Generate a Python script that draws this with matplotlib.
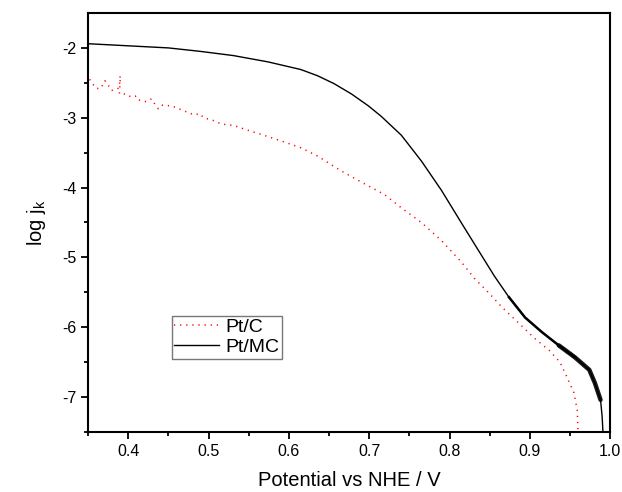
import matplotlib.pyplot as plt

plt.rcParams['font.family'] = ['Liberation Sans', 'DejaVu Sans']
plt.rcParams['axes.unicode_minus'] = False

# Pt/C (red dotted)
ptc_x = [0.352, 0.355, 0.360, 0.366, 0.371, 0.375, 0.379, 0.384, 0.389, 0.390,
         0.390, 0.389, 0.398, 0.403, 0.409, 0.411, 0.4225, 0.429, 0.434, 0.4375,
         0.441, 0.454, 0.469, 0.4825, 0.489, 0.494, 0.506, 0.516, 0.531, 0.552,
         0.574, 0.595, 0.615, 0.636, 0.665, 0.690, 0.719, 0.740, 0.765, 0.790,
         0.815, 0.831, 0.849, 0.865, 0.886, 0.906, 0.924, 0.9375, 0.946, 0.955,
         0.959, 0.960]
ptc_y = [-2.45, -2.50, -2.58, -2.58, -2.47, -2.53, -2.61, -2.60, -2.57, -2.40,
         -2.48, -2.66, -2.66, -2.70, -2.69, -2.74, -2.77, -2.73, -2.82, -2.87,
         -2.82, -2.83, -2.90, -2.96, -2.94, -3.00, -3.04, -3.09, -3.11, -3.19,
         -3.27, -3.35, -3.43, -3.55, -3.76, -3.92, -4.10, -4.29, -4.50, -4.76,
         -5.07, -5.30, -5.51, -5.71, -5.94, -6.16, -6.33, -6.50, -6.71, -6.94,
         -7.19, -7.50]

# Pt/MC (black solid)
ptmc_x = [0.350, 0.400, 0.450, 0.490, 0.531, 0.574, 0.615, 0.636, 0.656, 0.678,
          0.699, 0.715, 0.740, 0.765, 0.790, 0.815, 0.836, 0.856, 0.874, 0.894,
          0.915, 0.936, 0.956, 0.974, 0.981, 0.988, 0.990, 0.991]
ptmc_y = [-1.94, -1.97, -2.00, -2.05, -2.11, -2.20, -2.31, -2.40, -2.51, -2.66,
          -2.83, -2.98, -3.25, -3.62, -4.04, -4.51, -4.90, -5.27, -5.57, -5.86,
          -6.07, -6.26, -6.43, -6.61, -6.80, -7.04, -7.28, -7.50]

fig = plt.figure(figsize=(6.22, 4.92), dpi=100)
ax = fig.add_axes([0.1415, 0.122, 0.8395, 0.8516])

ax.plot(ptc_x, ptc_y, color='red', linestyle=(0, (0.8, 3.2)), linewidth=1.1,
        label='Pt/C')
ax.plot(ptmc_x, ptmc_y, color='black', linewidth=1.0, label='Pt/MC')
# noisy tail of the Pt/MC trace looks thicker
ax.plot(ptmc_x[-10:-5], ptmc_y[-10:-5], color='black', linewidth=1.8)
ax.plot(ptmc_x[-7:-2], ptmc_y[-7:-2], color='black', linewidth=3.2, alpha=0.9,
        solid_capstyle='round')

ax.set_xlim(0.35, 1.0)
ax.set_ylim(-7.5, -1.5)
ax.set_xticks([0.4, 0.5, 0.6, 0.7, 0.8, 0.9, 1.0])
ax.set_xticklabels(['0.4', '0.5', '0.6', '0.7', '0.8', '0.9', '1.0'])
ax.set_xticks([0.35, 0.45, 0.55, 0.65, 0.75, 0.85, 0.95], minor=True)
ax.set_yticks([-7, -6, -5, -4, -3, -2])
ax.set_yticks([-7.5, -6.5, -5.5, -4.5, -3.5, -2.5], minor=True)

ax.tick_params(which='major', direction='out', length=5, width=1.3,
               labelsize=11.5, top=False, right=False)
ax.tick_params(which='minor', direction='out', length=3, width=1.3,
               top=False, right=False)
for s in ax.spines.values():
    s.set_linewidth(1.5)

ax.set_xlabel('Potential vs NHE / V', fontsize=14.5, labelpad=9)
ax.set_ylabel('log j$_\\mathregular{k}$', fontsize=14.5, labelpad=10)

ax.legend(loc='lower left', bbox_to_anchor=(0.16, 0.175), fontsize=14,
          frameon=True, fancybox=False, edgecolor='#555555',
          handlelength=2.3, handletextpad=0.3, borderpad=0.15,
          labelspacing=0.1, borderaxespad=0)

fig.savefig('out.png', dpi=100)
